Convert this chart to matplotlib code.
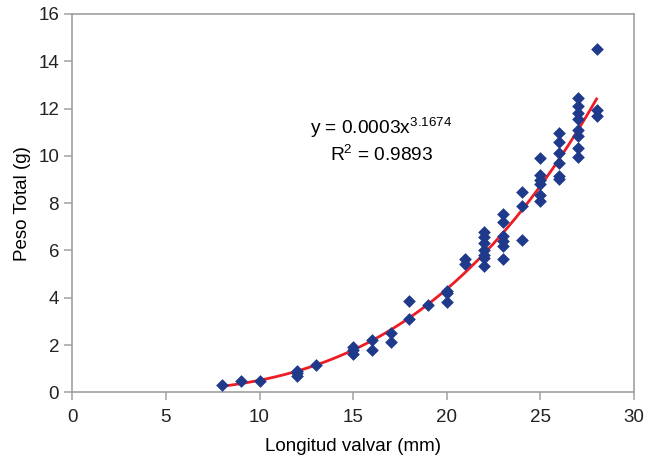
import numpy as np
import matplotlib
matplotlib.use("Agg")
import matplotlib.pyplot as plt

plt.rcParams['font.family'] = ['Liberation Sans', 'DejaVu Sans']
plt.rcParams['mathtext.default'] = 'regular'

# longitud valvar (mm) and peso total (g)
longitud = [8, 9, 10, 12, 12, 12, 13,
            15, 15, 15, 16, 16, 17, 17, 18, 18, 19,
            20, 20, 20, 21, 21,
            22, 22, 22, 22, 22, 22, 22,
            23, 23, 23, 23, 23, 23,
            24, 24, 24,
            25, 25, 25, 25, 25, 25,
            26, 26, 26, 26, 26, 26,
            27, 27, 27, 27, 27, 27, 27, 27,
            28, 28, 28]
peso = [0.30, 0.48, 0.48, 0.92, 0.80, 0.68, 1.17,
        1.92, 1.78, 1.63, 2.22, 1.80, 2.50, 2.11, 3.88, 3.08, 3.68,
        4.27, 4.18, 3.81, 5.64, 5.43,
        6.80, 6.58, 6.30, 6.03, 5.82, 5.68, 5.36,
        7.55, 7.19, 6.60, 6.38, 6.17, 5.64,
        8.49, 7.86, 6.46,
        9.90, 9.20, 8.99, 8.81, 8.35, 8.07,
        10.96, 10.60, 10.14, 9.69, 9.16, 9.02,
        12.46, 12.11, 11.80, 11.55, 11.10, 10.82, 10.35, 9.94,
        14.50, 11.94, 11.70]

x = np.array(longitud, dtype=float)
y = np.array(peso)

# power fit like Excel does it (least squares on the logs)
b, ln_a = np.polyfit(np.log(x), np.log(y), 1)
a = np.exp(ln_a)
xf = np.linspace(x.min(), x.max(), 200)
yf = a * xf ** b

fig = plt.figure(figsize=(6.58, 4.58), dpi=100)
ax = fig.add_axes([72.3 / 658, 65.7 / 458, (634 - 72.3) / 658, (444 - 65.7) / 458])

ax.scatter(x, y, marker='D', s=42, color='#1f3a8a', zorder=3, linewidths=0)
ax.plot(xf, yf, color='#ee1c24', lw=2, zorder=2)

ax.text(16.5, 11.2, 'y = 0.0003x$^{3.1674}$', ha='center', va='center', fontsize=13.8)
ax.text(16.5, 10.05, 'R$^{2}$ = 0.9893', ha='center', va='center', fontsize=13.8)

ax.set_xlim(0, 30)
ax.set_ylim(0, 16)
ax.set_xticks(range(0, 31, 5))
ax.set_yticks(range(0, 17, 2))
ax.set_xlabel('Longitud valvar (mm)', fontsize=13.5, labelpad=9)
ax.set_ylabel('Peso Total (g)', fontsize=13.5, labelpad=5)

for s in ax.spines.values():
    s.set_color('#a0a0a0')
    s.set_linewidth(1.2)
ax.tick_params(direction='out', length=6, width=1.1, color='#a0a0a0',
               labelsize=13.5, labelcolor='#222222')
ax.tick_params(axis='x', pad=6)

fig.savefig('out.png', dpi=100)
